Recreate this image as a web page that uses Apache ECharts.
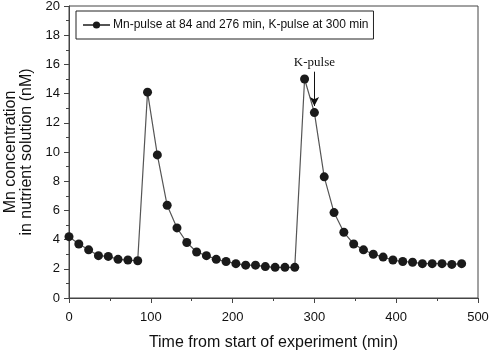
<!DOCTYPE html>
<html>
<head>
<meta charset="utf-8">
<script src="https://cdn.jsdelivr.net/npm/echarts@6/dist/echarts.min.js"></script>
<style>
  html, body { margin: 0; padding: 0; background: #fff; }
  #main { width: 490px; height: 355px; }
</style>
</head>
<body>
<div id="main"></div>
<script>
// 采样时间 (min)，每 12 min 一个点
var times = [0, 12, 24, 36, 48, 60, 72, 84, 96, 108, 120, 132, 144, 156, 168, 180, 192, 204, 216, 228,
  240, 252, 264, 276, 288, 300, 312, 324, 336, 348, 360, 372, 384, 396, 408, 420, 432, 444, 456, 468, 480];
// Mn 浓度 (nM)
var mnValues = [4.2, 3.7, 3.3, 2.9, 2.85, 2.65, 2.6, 2.55, 14.1, 9.8, 6.35, 4.8, 3.8, 3.15, 2.9, 2.65, 2.5, 2.35, 2.25, 2.25,
  2.15, 2.1, 2.1, 2.1, 15.0, 12.7, 8.3, 5.85, 4.5, 3.7, 3.3, 3.0, 2.8, 2.6, 2.5, 2.45, 2.35, 2.35, 2.35, 2.3, 2.35];
var seriesName = 'Mn-pulse at 84 and 276 min, K-pulse at 300 min';
// K-pulse 箭头 (时间, 起止浓度)
var kPulseTime = 300;
var kPulseFrom = 15.5;
var kPulseTo = 13.15;

var points = times.map(function (t, i) { return [t, mnValues[i]]; });

var sans = 'Liberation Sans, Arial, sans-serif';
var axisColor = '#444';

var myChart = echarts.init(document.getElementById('main'));
var option = {
    animation: false,
    grid: {
        left: 69,
        right: 12,
        top: 6,
        bottom: 57,
        outerBoundsMode: 'none',
        containLabel: false,
        show: true,
        borderColor: axisColor,
        borderWidth: 1
    },
    legend: {
        data: [seriesName],
        left: 76,
        top: 11,
        padding: [8, 5, 8, 6],
        borderColor: '#222',
        borderWidth: 1,
        itemWidth: 27,
        itemHeight: 9,
        itemGap: 3,
        textStyle: { color: '#111', fontSize: 12, fontFamily: sans, padding: [0, 0, 0, -2] }
    },
    xAxis: {
        type: 'value',
        min: 0,
        max: 500,
        interval: 100,
        name: 'Time from start of experiment (min)',
        nameLocation: 'middle',
        nameGap: 37,
        nameTextStyle: { color: '#111', fontSize: 16, fontFamily: sans },
        axisLine: { lineStyle: { color: axisColor } },
        axisTick: { length: 5, lineStyle: { color: axisColor } },
        minorTick: { show: true, splitNumber: 2, length: 3, lineStyle: { color: axisColor } },
        axisLabel: { color: '#111', fontSize: 13, fontFamily: sans, margin: 13 },
        splitLine: { show: false }
    },
    yAxis: {
        type: 'value',
        min: 0,
        max: 20,
        interval: 2,
        name: 'Mn concentration\nin nutrient solution (nM)',
        nameLocation: 'middle',
        nameGap: 34,
        nameTextStyle: { color: '#111', fontSize: 16, fontFamily: sans, lineHeight: 16, align: 'center' },
        axisLine: { lineStyle: { color: axisColor } },
        axisTick: { length: 5, lineStyle: { color: axisColor } },
        minorTick: { show: true, splitNumber: 2, length: 3, lineStyle: { color: axisColor } },
        axisLabel: { color: '#111', fontSize: 13, fontFamily: sans, margin: 9 },
        splitLine: { show: false }
    },
    series: [{
        name: seriesName,
        type: 'line',
        data: points,
        symbol: 'circle',
        symbolSize: 9,
        itemStyle: { color: '#1a1a1a' },
        lineStyle: { color: '#555', width: 1.2 },
        markLine: {
            silent: true,
            symbol: ['none', 'arrow'],
            symbolSize: [7, 9],
            lineStyle: { color: '#111', width: 1, type: 'solid' },
            label: {
                show: true,
                position: 'start',
                formatter: 'K-pulse',
                color: '#111',
                fontSize: 13,
                fontFamily: 'Liberation Serif, Times New Roman, serif',
                distance: 3
            },
            data: [[{ coord: [kPulseTime, kPulseFrom] }, { coord: [kPulseTime, kPulseTo] }]]
        }
    }]
};
myChart.setOption(option);
</script>
</body>
</html>
